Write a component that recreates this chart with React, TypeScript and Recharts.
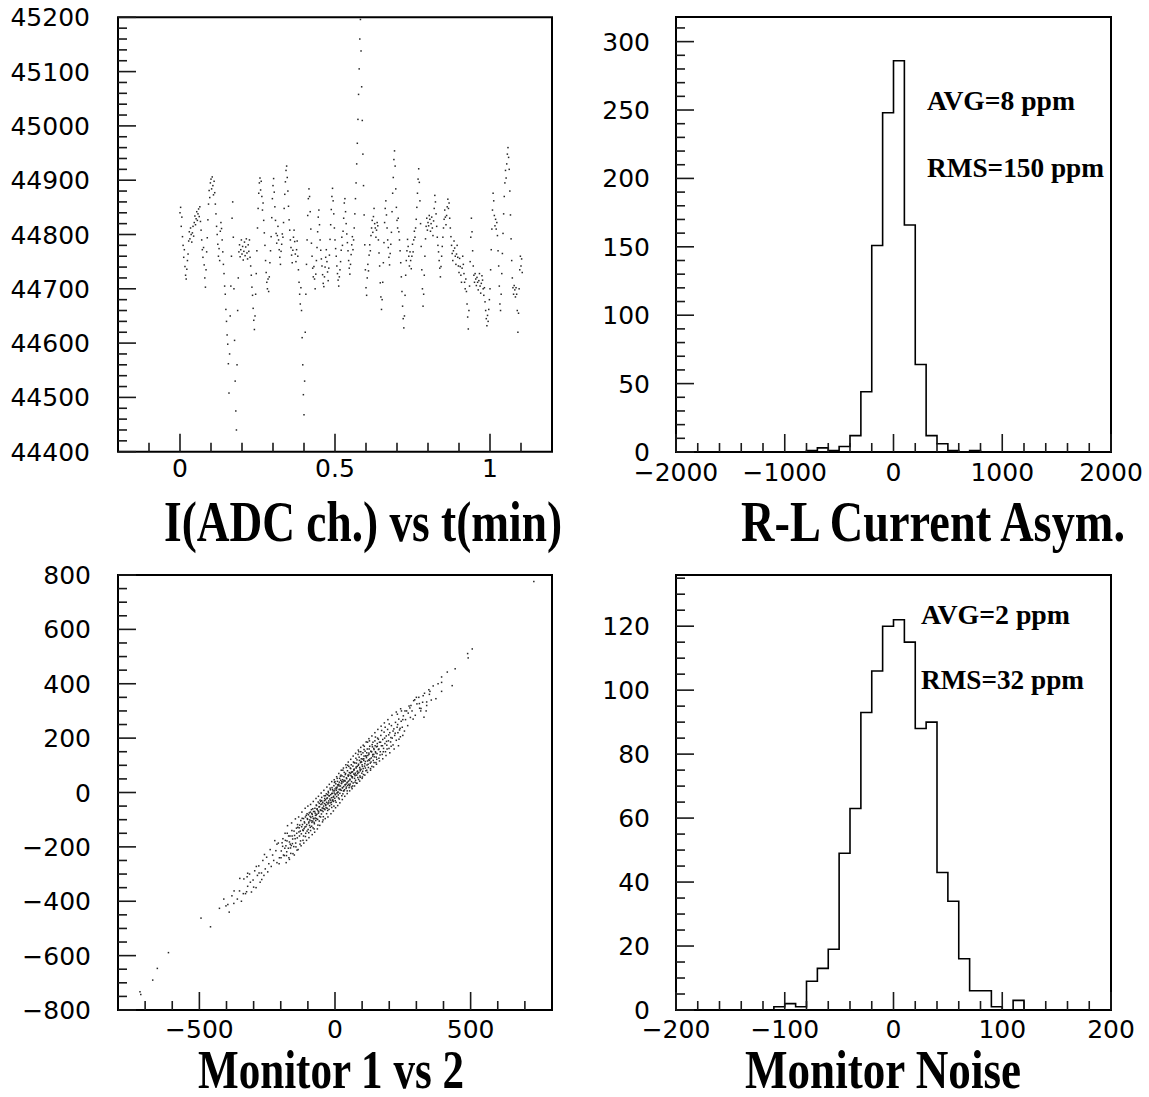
import React from 'react';
import { ScatterChart, Scatter, LineChart, Line, XAxis, YAxis, ReferenceArea } from 'recharts';

// ---------------- DATA ----------------
// Panel 1: I(ADC ch.) vs t(min) — beam current samples, one every tsStep minutes
const tsStep = 0.002;
const tsValues = [
  44840, 44850, 44815, 44832, 44796, 44780, 44758, 44772, 44741, 44725,
  44718, 44736, 44752, 44764, 44788, 44805, 44792, 44812, 44800, 44786,
  44803, 44815, 44797, 44822, 44834, 44818, 44829, 44842, 44826, 44838,
  44847, 44833, 44851, 44824, 44808, 44790, 44772, 44758, 44776, 44744,
  44720, 44703, 44735, 44768, 44794, 44827, 44856, 44881, 44868, 44895,
  44902, 44884, 44906, 44890, 44873, 44898, 44877, 44856, 44838, 44815,
  44800, 44782, 44760, 44774, 44752, 44806, 44822, 44811, 44790, 44768,
  44745, 44728, 44705, 44690, 44662, 44640, 44615, 44598, 44562, 44508,
  44580, 44650, 44705, 44760, 44830, 44860, 44795, 44700, 44605, 44530,
  44475, 44440, 44560, 44660, 44720, 44768, 44781, 44759, 44772, 44790,
  44764, 44778, 44753, 44769, 44786, 44761, 44777, 44792, 44766, 44755,
  44781, 44769, 44790, 44758, 44742, 44725, 44703, 44688, 44664, 44642,
  44625, 44650, 44690, 44728, 44770, 44812, 44848, 44876, 44895, 44904,
  44882, 44898, 44870, 44845, 44858, 44826, 44803, 44780, 44752, 44730,
  44712, 44700, 44718, 44695, 44722, 44748, 44770, 44796, 44831, 44866,
  44890, 44903, 44878, 44851, 44826, 44802, 44784, 44798, 44815, 44790,
  44772, 44758, 44745, 44769, 44782, 44801, 44795, 44822, 44848, 44874,
  44897, 44918, 44926, 44905, 44880, 44852, 44827, 44808, 44790, 44776,
  44762, 44748, 44771, 44795, 44808, 44787, 44764, 44750, 44772, 44788,
  44760, 44735, 44712, 44690, 44672, 44702, 44660, 44610, 44560, 44505,
  44468, 44530, 44620, 44690, 44745, 44790, 44835, 44866, 44884, 44870,
  44842, 44810, 44784, 44760, 44738, 44722, 44741, 44718, 44700, 44727,
  44752, 44776, 44805, 44832, 44845, 44818, 44790, 44771, 44755, 44742,
  44726, 44710, 44704, 44722, 44740, 44758, 44772, 44750, 44731, 44715,
  44738, 44762, 44791, 44818, 44846, 44870, 44885, 44862, 44838, 44812,
  44790, 44774, 44760, 44742, 44728, 44716, 44705, 44722, 44735, 44750,
  44771, 44795, 44780, 44806, 44830, 44858, 44866, 44842, 44820, 44801,
  44785, 44770, 44752, 44738, 44727, 44745, 44763, 44781, 44796, 44772,
  44790, 44812, 44838, 44866, 44895, 44930, 44968, 45012, 45058, 45105,
  45160, 45196, 45138, 45072, 45010, 44948, 44890, 44836, 44781, 44735,
  44702, 44688, 44720, 44745, 44733, 44762, 44781, 44770, 44798, 44812,
  44826, 44804, 44833, 44848, 44820, 44812, 44795, 44808, 44822, 44816,
  44790, 44766, 44742, 44711, 44685, 44662, 44680, 44712, 44748, 44785,
  44822, 44848, 44862, 44836, 44812, 44790, 44776, 44758, 44744, 44765,
  44782, 44804, 44842, 44876, 44905, 44938, 44954, 44926, 44884, 44850,
  44826, 44812, 44830, 44805, 44790, 44770, 44748, 44722, 44695, 44668,
  44645, 44628, 44650, 44688, 44725, 44752, 44770, 44791, 44778, 44760,
  44742, 44768, 44752, 44737, 44760, 44782, 44768, 44790, 44806, 44795,
  44812, 44828, 44850, 44876, 44902, 44921, 44896, 44862, 44820, 44778,
  44735, 44700, 44668, 44690, 44725, 44760, 44792, 44815, 44830, 44808,
  44822, 44816, 44835, 44828, 44806, 44820, 44832, 44812, 44798, 44825,
  44848, 44872, 44860, 44838, 44815, 44795, 44780, 44768, 44752, 44738,
  44722, 44741, 44760, 44778, 44795, 44812, 44828, 44845, 44832, 44818,
  44835, 44851, 44865, 44848, 44858, 44830, 44812, 44796, 44780, 44765,
  44752, 44770, 44788, 44775, 44760, 44745, 44764, 44780, 44758, 44742,
  44730, 44756, 44741, 44725, 44712, 44738, 44760, 44745, 44728, 44712,
  44700, 44718, 44695, 44672, 44648, 44626, 44660, 44705, 44750, 44795,
  44830, 44805, 44770, 44742, 44725, 44712, 44728, 44718, 44706, 44721,
  44712, 44698, 44715, 44728, 44705, 44692, 44710, 44724, 44716, 44700,
  44688, 44702, 44676, 44660, 44645, 44632, 44651, 44640, 44662, 44680,
  44700, 44735, 44772, 44810, 44845, 44876, 44862, 44835, 44816, 44828,
  44810, 44822, 44798, 44770, 44742, 44705, 44672, 44660, 44690, 44728,
  44765, 44802, 44838, 44870, 44895, 44918, 44904, 44930, 44948, 44960,
  44942, 44920, 44880, 44836, 44792, 44752, 44720, 44702, 44690, 44706,
  44698, 44685, 44702, 44690, 44660, 44620, 44655, 44700, 44735, 44760,
  44742, 44755, 44730,
];

// Panel 2: R-L current asymmetry histogram (ppm), bins of 100 from -2000
const rlBinLow = -2000;
const rlBinWidth = 100;
const rlCounts = [
  0, 0, 0, 0, 0, 0, 0, 0, 0, 0,
  0, 0, 1, 3, 1, 4, 12, 44, 151, 248,
  286, 166, 64, 12, 6, 1, 0, 1, 0, 0,
  0, 0, 0, 0, 0, 0, 0, 0, 0, 0,
];

// Panel 3: Monitor 1 vs Monitor 2 (x = monitor 1, y = monitor 2)
const monitorPairs: [number, number][] = [
  [-198,-215],[-192,-170],[-187,-232],[-181,-196],[-176,-150],[-172,-205],[-168,-182],[-163,-224],[-159,-140],[-156,-171],
  [-152,-199],[-149,-158],[-145,-186],[-142,-131],[-139,-167],[-136,-210],[-133,-145],[-130,-120],[-127,-178],[-124,-152],
  [-121,-95],[-119,-138],[-116,-160],[-113,-108],[-111,-127],[-108,-150],[-106,-84],[-104,-118],[-101,-99],[-99,-136],
  [-97,-112],[-95,-75],[-93,-101],[-91,-128],[-89,-92],[-87,-63],[-85,-110],[-83,-88],[-81,-130],[-79,-70],
  [-78,-97],[-76,-115],[-74,-58],[-72,-84],[-71,-103],[-69,-46],[-67,-80],[-66,-62],[-64,-99],[-62,-35],
  [-60,-71],[-59,-53],[-57,-88],[-55,-28],[-54,-64],[-52,-44],[-50,-79],[-49,-18],[-47,-57],[-45,-36],
  [-44,-70],[-42,-50],[-40,-12],[-39,-41],[-37,-63],[-35,-27],[-34,-48],[-32,-5],[-31,-36],[-29,-58],
  [-28,-20],[-26,-42],[-25,4],[-23,-31],[-22,-12],[-20,-49],[-19,-24],[-17,10],[-16,-8],[-14,-36],
  [-13,-19],[-11,18],[-10,-3],[-8,-27],[-7,6],[-5,-14],[-4,25],[-3,-2],[-1,-21],[0,13],
  [2,-6],[3,32],[5,8],[6,-15],[8,20],[9,41],[11,2],[12,-9],[14,30],[15,11],
  [17,52],[18,-3],[20,24],[21,45],[23,8],[24,33],[26,61],[27,17],[29,-5],[30,39],
  [32,22],[33,58],[35,10],[36,44],[38,29],[39,70],[41,15],[43,51],[44,35],[46,80],
  [47,26],[49,60],[50,42],[52,18],[53,73],[55,49],[56,31],[58,88],[59,62],[61,40],
  [63,76],[64,54],[66,97],[67,35],[69,68],[70,82],[72,52],[73,109],[75,71],[76,45],
  [78,90],[80,64],[81,120],[83,79],[84,55],[86,100],[88,74],[89,130],[91,92],[92,61],
  [94,110],[96,85],[97,140],[99,71],[100,102],[102,123],[104,88],[105,66],[107,134],[109,97],
  [111,152],[112,114],[114,80],[116,128],[118,101],[119,160],[121,136],[123,92],[125,145],[127,118],
  [128,170],[130,108],[132,152],[134,127],[136,96],[137,176],[139,140],[141,118],[143,162],[145,131],
  [147,190],[149,150],[151,110],[153,168],[155,143],[157,200],[160,158],[162,126],[164,185],[167,150],
  [169,210],[171,172],[174,140],[176,195],[179,162],[181,222],[184,180],[186,150],[189,208],[191,174],
  [194,232],[197,190],[199,162],[202,220],[205,186],[208,246],[211,200],[214,175],[217,234],[220,210],
  [223,258],[226,192],[229,240],[232,220],[235,270],[238,230],[241,205],[244,262],[248,240],[252,282],
  [256,226],[260,268],
  [-138,-118],[-131,-160],[-126,-103],[-118,-176],[-114,-133],[-109,-90],[-103,-142],[-98,-82],[-94,-121],[-90,-140],
  [-86,-77],[-82,-105],[-77,-134],[-73,-76],[-68,-96],[-63,-67],[-58,-105],[-53,-33],[-48,-66],[-43,-89],
  [-38,-22],[-33,-56],[-27,-66],[-24,-1],[-18,-38],[-12,-55],[-9,11],[-6,-33],[-2,37],[1,-30],
  [4,18],[7,-2],[10,28],[13,-20],[16,38],[19,12],[22,64],[25,-12],[28,47],[31,6],
  [34,74],[37,42],[40,30],[42,92],[45,6],[48,64],[51,96],[54,25],[57,70],[60,102],
  [62,58],[65,24],[68,112],[71,86],[74,62],[77,126],[79,34],[82,96],[85,140],[87,48],
  [90,118],[93,80],[95,150],[98,112],[101,57],[103,146],[106,118],[108,170],[113,135],[117,82],
  [120,185],[124,120],[126,160],[131,88],[135,150],[140,185],[144,110],[148,172],[152,130],[156,180],
  [-180,-258],[-175,-122],[-168,-246],[-160,-112],[-150,-230],[-146,-97],[-140,-212],[-134,-90],[-125,-196],[-122,-72],
  [-115,-186],[-110,-58],[-105,-176],[-100,-50],[-96,-166],[-90,-44],[-84,-155],[-80,-33],[-75,-146],[-70,-22],
  [-65,-134],[-61,-14],[-56,-121],[-51,-2],[-46,-108],[-41,8],[-36,-96],[-30,20],[-26,-90],[-21,30],
  [-15,-78],[-12,40],[-6,-68],[-3,47],[2,-56],[6,58],[10,-48],[14,70],[18,-38],[23,82],
  [27,-26],[31,90],[36,-14],[40,102],[45,-4],[49,112],[54,6],[58,122],[63,14],[67,134],
  [72,24],[76,144],[81,34],[86,156],[91,42],[95,166],[100,52],[104,174],[110,64],[115,186],
  [120,74],[125,198],[131,82],[136,208],[142,94],[147,220],[153,104],[158,232],[164,116],[170,244],
  [176,124],[182,256],[188,136],[195,268],[202,146],[210,284],[218,160],[226,296],[234,172],[242,308],
  [-195,-185],[-185,-205],[-177,-178],[-165,-190],[-158,-160],[-147,-170],[-141,-150],[-132,-130],[-128,-142],[-120,-118],
  [-117,-140],[-112,-112],[-107,-125],[-102,-96],[-96,-108],[-92,-88],[-88,-104],[-84,-80],[-80,-95],[-75,-70],
  [-70,-84],[-66,-60],[-61,-76],[-57,-52],[-52,-66],[-48,-42],[-43,-58],[-39,-30],[-34,-44],[-30,-22],
  [-25,-38],[-21,-12],[-16,-28],[-12,-4],[-7,-18],[-2,6],[1,-8],[6,14],[10,0],[15,24],
  [19,10],[24,34],[28,18],[33,44],[37,28],[42,54],[46,38],[51,64],[55,46],[60,74],
  [64,58],[69,84],[73,66],[78,94],[82,76],[87,104],[92,86],[96,114],[101,96],[106,124],
  [110,106],[115,134],[120,116],[125,140],[129,124],[134,150],[139,134],[144,158],[150,146],[156,170],
  [162,160],[168,185],[175,172],[183,200],[190,188],[198,212],[206,202],[214,226],[222,218],[231,250],
  [240,236],[250,268],
  [-214,-190],[-206,-262],[-199,-240],[-193,-198],[-183,-176],[-179,-232],[-171,-160],[-164,-204],[-157,-188],[-151,-142],
  [-144,-200],[-137,-128],[-129,-190],[-123,-126],[-116,-96],[-109,-162],[-103,-78],[-97,-148],[-91,-72],[-86,-124],
  [-82,-60],[-77,-110],[-73,-94],[-68,-48],[-63,-120],[-58,-40],[-53,-90],[-49,-30],[-44,-101],[-40,-60],
  [-35,-12],[-31,-78],[-27,-8],[-22,-62],[-18,16],[-13,-44],[-9,-30],[-4,-50],[0,40],[4,-36],
  [8,52],[12,28],[16,-24],[20,60],[25,40],[29,82],[33,6],[38,66],[42,20],[47,100],
  [51,30],[56,90],[61,20],[65,76],[70,110],[74,38],[79,108],[84,70],[88,150],[93,56],
  [97,124],[102,78],[107,158],[112,90],[117,146],[122,104],[127,190],[133,112],[138,168],[143,140],
  [149,204],[154,122],[160,196],[166,138],[172,228],[178,150],[185,240],[192,160],[200,252],[207,170],
  [-260,-228],[-270,-320],[-280,-296],[-290,-272],[-300,-348],[-312,-330],[-324,-310],[-338,-372],[280,320],[288,270],
  [300,350],[312,310],[325,356],[336,300],[350,372],[362,392],[372,345],[380,400],[-380,-380],[-395,-412],
  [-205,-240],[-209,-186],[-214,-258],[-218,-214],[-222,-177],[-226,-250],[-230,-230],[-235,-272],[-239,-210],[-244,-262],
  [-248,-292],[-252,-238],[-257,-281],[-262,-305],[-266,-250],[-271,-296],[-276,-330],[-281,-270],[-286,-305],[-291,-350],
  [-296,-288],[-302,-322],[-308,-366],[-315,-300],[-322,-345],[-330,-372],[-336,-318],[-345,-400],[-352,-362],[-360,-392],
  [-190,-230],[-184,-150],[-178,-218],[-170,-240],[-166,-160],[-161,-195],[-155,-225],
  [264,300],[268,246],[273,318],[278,276],[284,300],[290,338],[296,284],[302,326],[309,350],[316,300],
  [323,332],[330,365],[338,320],[346,378],[355,340],[230,288],[236,196],[245,300],[250,210],[258,300],
  [-373,-408],[-402,-417],[-410,-392],[-426,-426],[-459,-494],[-494,-462],[-614,-589],[-655,-647],[-672,-690],[-716,-743],
  [-719,-733],[-326,-365],[-372,-362],[-322,-297],[-351,-316],[-390,-440],
  [270,292],[276,311],[294,341],[311,327],[317,309],[328,277],[338,333],[348,361],[393,425],[393,405],
  [393,372],[432,393],[414,443],[443,455],[489,511],[491,495],[506,528],[733,776],
];

// Panel 4: monitor noise histogram (ppm), bins of 10 from -200
const mnBinLow = -200;
const mnBinWidth = 10;
const mnCounts = [
  0, 0, 0, 0, 0, 0, 0, 0, 0, 1,
  2, 1, 9, 13, 19, 49, 63, 93, 106, 120,
  122, 115, 88, 90, 43, 34, 16, 6, 6, 1,
  0, 3, 0, 0, 0, 0, 0, 0, 0, 0,
];

// Axis tick values
const tlXMajor = [0, 0.5, 1];
const tlXTicks = [-0.1, 0, 0.1, 0.2, 0.3, 0.4, 0.5, 0.6, 0.7, 0.8, 0.9, 1, 1.1];
const tlYMajor = [44400, 44500, 44600, 44700, 44800, 44900, 45000, 45100, 45200];
const trXMajor = [-2000, -1000, 0, 1000, 2000];
const trYMajor = [0, 50, 100, 150, 200, 250, 300];
const blXMajor = [-500, 0, 500];
const blYMajor = [-800, -600, -400, -200, 0, 200, 400, 600, 800];
const brXMajor = [-200, -100, 0, 100, 200];
const brYMajor = [0, 20, 40, 60, 80, 100, 120];

// ---------------- HELPERS ----------------
const range = (a: number, b: number, s: number) => {
  const out: number[] = [];
  for (let v = a; v <= b + 1e-9; v += s) out.push(Math.round(v * 1000) / 1000);
  return out;
};

const tsData = tsValues.map((v, i) => ({ t: Math.round(i * tsStep * 10000) / 10000, v }));
const monData = monitorPairs.map(([x, y]) => ({ x, y }));
const histPoints = (low: number, w: number, counts: number[]) => {
  const pts = counts.map((n, i) => ({ x: low + i * w, n }));
  pts.push({ x: low + counts.length * w, n: 0 });
  return pts;
};
const rlData = histPoints(rlBinLow, rlBinWidth, rlCounts);
const mnData = histPoints(mnBinLow, mnBinWidth, mnCounts);

const TICK_FONT = '"DejaVu Sans", Verdana, sans-serif';
const SERIF = '"Liberation Serif", "Times New Roman", serif';
const INK = '#1a1a1a';

const fmt = (v: number) => (v < 0 ? '\u2212' + String(Math.abs(v)) : String(v));
const isMajor = (v: number, majors: number[]) => majors.some((m) => Math.abs(m - v) < 1e-7);

const makeYTick = (majors: number[], gap: number) => (props: any) => {
  const { x, y, payload } = props;
  const v = payload.value;
  const major = isMajor(v, majors);
  return (
    <g>
      <line x1={x} y1={y} x2={x + (major ? 18 : 9)} y2={y} stroke={INK} strokeWidth={1.6} />
      {major ? (
        <text x={x - gap} y={y + 9} textAnchor="end" fontFamily={TICK_FONT} fontSize={25} fill="#000">
          {fmt(v)}
        </text>
      ) : null}
    </g>
  );
};

const makeXTick = (majors: number[], offset: number) => (props: any) => {
  const { x, y, payload } = props;
  const v = payload.value;
  const major = isMajor(v, majors);
  return (
    <g>
      <line x1={x} y1={y} x2={x} y2={y - (major ? 18 : 9)} stroke={INK} strokeWidth={1.6} />
      {major ? (
        <text x={x} y={y + offset} textAnchor="middle" fontFamily={TICK_FONT} fontSize={25} fill="#000">
          {fmt(v)}
        </text>
      ) : null}
    </g>
  );
};

const Dot = (props: any) => {
  const { cx, cy } = props;
  if (cx == null || cy == null) return <g />;
  return <rect x={cx - 0.75} y={cy - 0.75} width={1.5} height={1.5} fill="#262626" />;
};

const axisCommon = { tickLine: false, axisLine: false, tickSize: 0, tickMargin: 0, interval: 0 as const, allowDataOverflow: true };

// ---------------- PANELS ----------------
const TimePanel = () => (
  <ScatterChart width={574} height={495} margin={{ top: 17.3, right: 22, bottom: 0, left: 0 }}>
    <XAxis type="number" dataKey="t" domain={[-0.2, 1.2]} ticks={tlXTicks} height={43.3}
      tick={makeXTick(tlXMajor, 25)} {...axisCommon} />
    <YAxis type="number" dataKey="v" domain={[44400, 45200]} ticks={range(44400, 45200, 20)} width={118}
      tick={makeYTick(tlYMajor, 28)} {...axisCommon} />
    <Scatter data={tsData} shape={Dot} isAnimationActive={false} />
    <ReferenceArea x1={-0.2} x2={1.2} y1={44400} y2={45200} fill="none" fillOpacity={0} stroke="#000" strokeWidth={2} ifOverflow="visible" />
  </ScatterChart>
);

const AsymPanel = () => (
  <LineChart width={575} height={495} data={rlData} margin={{ top: 17, right: 38, bottom: 0, left: 0 }}>
    <XAxis type="number" dataKey="x" domain={[-2000, 2000]} ticks={range(-2000, 2000, 200)} height={43}
      tick={makeXTick(trXMajor, 29)} {...axisCommon} />
    <YAxis type="number" domain={[0, 318]} ticks={range(0, 310, 10)} width={102}
      tick={makeYTick(trYMajor, 26)} {...axisCommon} />
    <Line type="stepAfter" dataKey="n" stroke="#000" strokeWidth={1.6} dot={false} activeDot={false} isAnimationActive={false} />
    <ReferenceArea x1={-2000} x2={2000} y1={0} y2={318} fill="none" fillOpacity={0} stroke="#000" strokeWidth={2} ifOverflow="visible" />
  </LineChart>
);

const MonitorPanel = () => (
  <ScatterChart width={574} height={520} margin={{ top: 35, right: 22, bottom: 0, left: 0 }}>
    <XAxis type="number" dataKey="x" domain={[-800, 800]} ticks={range(-700, 700, 100)} height={50}
      tick={makeXTick(blXMajor, 28)} {...axisCommon} />
    <YAxis type="number" dataKey="y" domain={[-800, 800]} ticks={range(-800, 800, 50)} width={118}
      tick={makeYTick(blYMajor, 27)} {...axisCommon} />
    <Scatter data={monData} shape={Dot} isAnimationActive={false} />
    <ReferenceArea x1={-800} x2={800} y1={-800} y2={800} fill="none" fillOpacity={0} stroke="#000" strokeWidth={2} ifOverflow="visible" />
  </ScatterChart>
);

const NoisePanel = () => (
  <LineChart width={575} height={520} data={mnData} margin={{ top: 35, right: 38, bottom: 0, left: 0 }}>
    <XAxis type="number" dataKey="x" domain={[-200, 200]} ticks={range(-200, 200, 20)} height={50}
      tick={makeXTick(brXMajor, 28)} {...axisCommon} />
    <YAxis type="number" domain={[0, 136]} ticks={range(0, 135, 5)} width={102}
      tick={makeYTick(brYMajor, 26)} {...axisCommon} />
    <Line type="stepAfter" dataKey="n" stroke="#000" strokeWidth={1.6} dot={false} activeDot={false} isAnimationActive={false} />
    <ReferenceArea x1={-200} x2={200} y1={0} y2={136} fill="none" fillOpacity={0} stroke="#000" strokeWidth={2} ifOverflow="visible" />
  </LineChart>
);

const SX = 0.8;
const Title = ({ x, y, w, size, children }: { x: number; y: number; w: number; size: number; children: string }) => (
  <text
    transform={`translate(${x},${y}) scale(${SX},1)`}
    x={0}
    y={0}
    fontSize={size}
    textLength={w / SX}
    lengthAdjust="spacingAndGlyphs"
    fontFamily={SERIF}
    fontWeight="bold"
    fill="#000"
  >
    {children}
  </text>
);

const Note = ({ x, y, w, children }: { x: number; y: number; w: number; children: string }) => (
  <text x={x} y={y} fontSize={27} textLength={w} lengthAdjust="spacingAndGlyphs" fontFamily={SERIF} fontWeight="bold" fill="#000">
    {children}
  </text>
);

export default function App() {
  return (
    <div style={{ position: 'absolute', left: 0, top: 0, width: 1149, height: 1097, background: '#fff', overflow: 'hidden' }}>
      <div style={{ position: 'absolute', left: 0, top: 0 }}><TimePanel /></div>
      <div style={{ position: 'absolute', left: 574, top: 0 }}><AsymPanel /></div>
      <div style={{ position: 'absolute', left: 0, top: 540 }}><MonitorPanel /></div>
      <div style={{ position: 'absolute', left: 574, top: 540 }}><NoisePanel /></div>
      <svg width={1149} height={1097} style={{ position: 'absolute', left: 0, top: 0, pointerEvents: 'none' }}>
        <Title x={164} y={541} w={398} size={57}>I(ADC ch.) vs t(min)</Title>
        <Title x={741} y={541} w={384} size={57}>R-L Current Asym.</Title>
        <Title x={198} y={1088} w={266} size={55}>Monitor 1 vs 2</Title>
        <Title x={745} y={1088} w={276} size={55}>Monitor Noise</Title>
        <Note x={927} y={110} w={148}>AVG=8 ppm</Note>
        <Note x={927} y={177} w={177}>RMS=150 ppm</Note>
        <Note x={921} y={624} w={149}>AVG=2 ppm</Note>
        <Note x={921} y={689} w={163}>RMS=32 ppm</Note>
      </svg>
    </div>
  );
}
